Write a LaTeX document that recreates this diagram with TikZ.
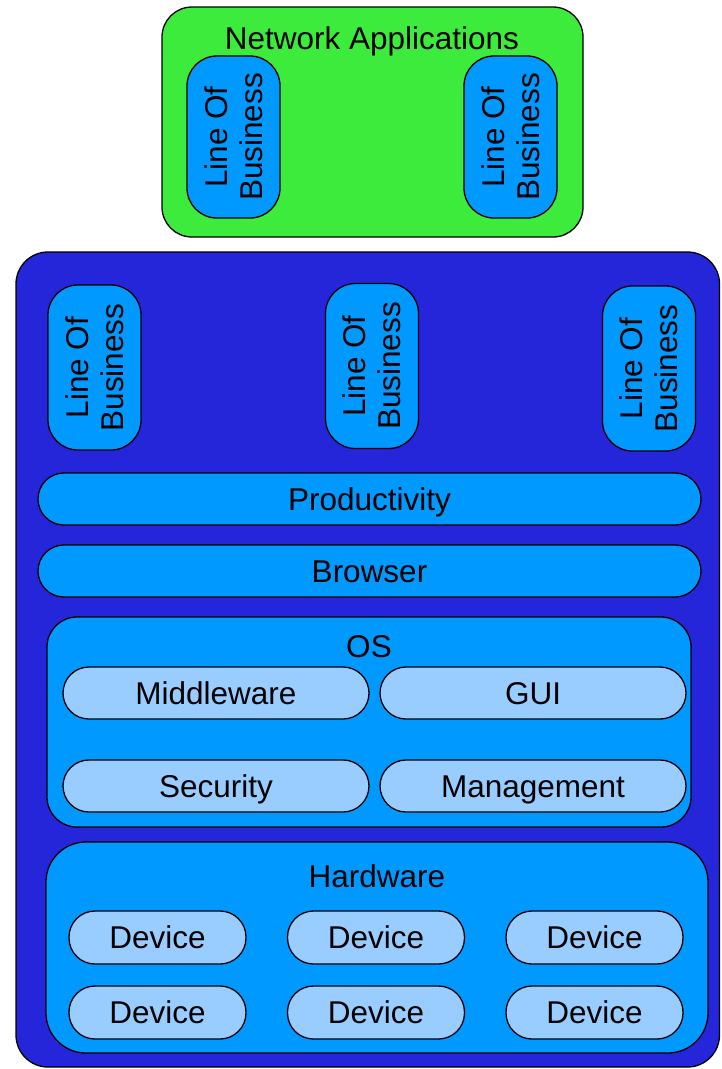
\documentclass[tikz,border=0pt]{standalone}
\usepackage{fontspec}
\setmainfont{Liberation Sans}
\definecolor{gfill}{RGB}{60,235,60}
\definecolor{dblue}{RGB}{37,37,218}
\definecolor{mblue}{RGB}{0,153,255}
\definecolor{lblue}{RGB}{153,204,255}
\begin{document}
\begin{tikzpicture}[x=1pt,y=-1pt,
  font=\fontsize{31.5}{35}\selectfont,
  box/.style={draw=black, line width=1.3pt, inner sep=0pt, outer sep=0pt},
  lob/.style={box, fill=mblue, rounded corners=30pt, minimum width=93pt, minimum height=164pt,
     align=center, rotate=90},
  capc/.style={text height=22.5pt, text depth=0pt},
  pill/.style={box, capc, fill=mblue, rounded corners=26pt, minimum width=663pt, minimum height=52pt},
  sub/.style={box, capc, fill=lblue, rounded corners=26pt, minimum width=306pt, minimum height=52pt},
  dev/.style={box, capc, fill=lblue, rounded corners=26pt, minimum width=177pt, minimum height=53pt},
  lbl/.style={inner sep=0pt, anchor=base}]
\useasboundingbox[fill=white] (0,0) rectangle (721,1069);
% Network applications
\node[box, fill=gfill, rounded corners=30pt, minimum width=421pt, minimum height=230pt] (net) at (372.5,122) {};
\node[lbl] (netlbl) at (372,49) {Network Applications};
\node[lob, minimum height=93pt, minimum width=162pt] (nl1) at (233.5,137) {Line Of\\Business};
\node[lob, minimum height=93pt, minimum width=162pt] (nl2) at (510.5,137) {Line Of\\Business};
% Main stack
\node[box, fill=dblue, rounded corners=32pt, minimum width=703.5pt, minimum height=815pt] (main) at (367.75,659.5) {};
\node[lob, minimum height=93pt, minimum width=165pt] (l1) at (94.5,367.5) {Line Of\\Business};
\node[lob, minimum height=93pt, minimum width=165pt] (l2) at (372,366) {Line Of\\Business};
\node[lob, minimum height=93pt, minimum width=165pt] (l3) at (649,368.5) {Line Of\\Business};
\node[pill] (prod) at (369.5,499) {Productivity};
\node[pill] (brow) at (369.5,571) {Browser};
% OS
\node[box, fill=mblue, rounded corners=30pt, minimum width=644pt, minimum height=210pt] (os) at (369,722) {};
\node[lbl] (oslbl) at (369,657) {OS};
\node[sub] (mid) at (216,693) {Middleware};
\node[sub] (gui) at (533,693) {GUI};
\node[sub] (sec) at (216,786) {Security};
\node[sub] (mgt) at (533,786) {Management};
% Hardware
\node[box, fill=mblue, rounded corners=40pt, minimum width=662pt, minimum height=211pt] (hw) at (377,947.5) {};
\node[lbl] (hwlbl) at (377,887) {Hardware};
\node[dev] (d1) at (157.5,937.5) {Device};
\node[dev] (d2) at (376,937.5) {Device};
\node[dev] (d3) at (594.5,937.5) {Device};
\node[dev] (d4) at (157.5,1012.5) {Device};
\node[dev] (d5) at (376,1012.5) {Device};
\node[dev] (d6) at (594.5,1012.5) {Device};
\end{tikzpicture}
\end{document}
